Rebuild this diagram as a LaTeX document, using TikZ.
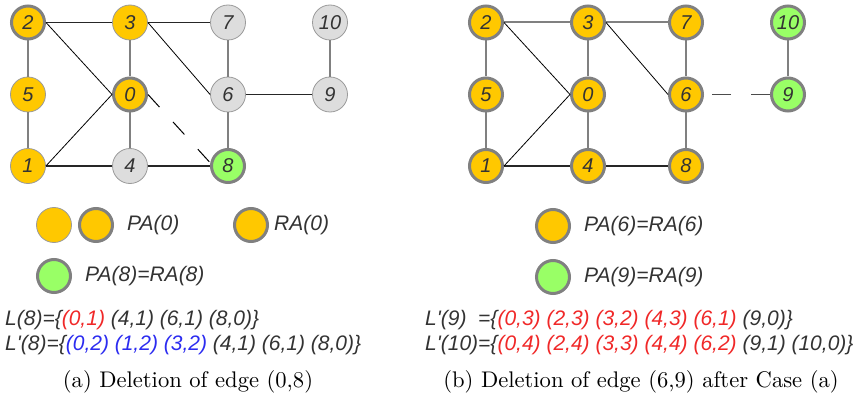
\documentclass[tikz,border=0pt]{standalone}
\usepackage{fontspec}
\usepackage{calc}
\newfontfamily\lsans{Liberation Sans}
\definecolor{yel}{HTML}{FFC800}
\definecolor{grn}{HTML}{99FF66}
\definecolor{lgr}{HTML}{DDDDDD}
\definecolor{bord}{HTML}{808080}
\definecolor{tbord}{HTML}{9A9A9A}
\definecolor{txt}{HTML}{333333}
\definecolor{rd}{HTML}{F02828}
\definecolor{bl}{HTML}{2C2CF0}
\tikzset{
  vtx/.style={circle, minimum size=35pt, inner sep=0pt, font=\lsans\itshape\fontsize{20}{20}\selectfont, text=txt},
  thinv/.style={vtx, draw=tbord, line width=0.8pt},
  thickv/.style={vtx, draw=bord, line width=3pt, minimum size=33pt},
  ygt/.style={thinv, fill=yel},
  gyt/.style={thinv, fill=lgr},
  ykt/.style={thickv, fill=yel},
  gkt/.style={thickv, fill=grn},
  ethin/.style={line width=0.8pt, draw=black},
  eblk/.style={line width=1.2pt, draw=black!85},
  egry/.style={line width=2pt, draw=bord},
  edash/.style={line width=1pt, draw=black, dash pattern=on 17pt off 20pt},
  edash2/.style={line width=1.6pt, draw=black!70, dash pattern=on 19pt off 20pt},
  lab/.style={anchor=west, inner sep=0pt, font=\lsans\itshape\fontsize{21}{21}\selectfont, text=txt},
  capt/.style={inner sep=0pt, text=black}
}
\newcommand{\aps}{\char"0027}
\begin{document}
\begin{tikzpicture}[x=1pt,y=-1pt]
\useasboundingbox (0,0) rectangle (857,401);
% ---------- left graph
\node[ykt] (a2) at (28,22.5) {2};
\node[ygt] (a3) at (130,22.5) {3};
\node[gyt] (a7) at (228,22.5) {7};
\node[gyt] (a10) at (330,22.5) {10};
\node[ygt] (a5) at (28,94.5) {5};
\node[ykt] (a0) at (130,94.5) {0};
\node[gyt] (a6) at (228,94.5) {6};
\node[gyt] (a9) at (330,94.5) {9};
\node[ygt] (a1) at (28,166) {1};
\node[gyt] (a4) at (130,166) {4};
\node[gkt] (a8) at (228,166) {8};
\draw[eblk] (a2) -- (a3);
\draw[eblk] (a3) -- (a7);
\draw[eblk] (a6) -- (a9);
\draw[eblk] (a1) -- (a4);
\draw[eblk] (a4) -- (a8);
\draw[egry] (a2) -- (a5);
\draw[egry] (a5) -- (a1);
\draw[egry] (a3) -- (a0);
\draw[egry] (a0) -- (a4);
\draw[egry] (a7) -- (a6);
\draw[egry] (a6) -- (a8);
\draw[egry] (a10) -- (a9);
\draw[ethin] (a2.east) -- (a0.west);
\draw[ethin] (a1.east) -- (a0.west);
\draw[ethin] (a3.east) -- (a6.west);
\draw[edash] (a0.east) -- (a8.170);
% ---------- right graph
\node[ykt] (b2) at (486,22.5) {2};
\node[ykt] (b3) at (588,22.5) {3};
\node[ykt] (b7) at (686,22.5) {7};
\node[gkt] (b10) at (788,22.5) {10};
\node[ykt] (b5) at (486,94.5) {5};
\node[ykt] (b0) at (588,94.5) {0};
\node[ykt] (b6) at (686,94.5) {6};
\node[gkt] (b9) at (788,94.5) {9};
\node[ykt] (b1) at (486,166) {1};
\node[ykt] (b4) at (588,166) {4};
\node[ykt] (b8) at (686,166) {8};
\draw[egry] (b2) -- (b3);
\draw[egry] (b3) -- (b7);
\draw[eblk] (b1) -- (b4);
\draw[eblk] (b4) -- (b8);
\draw[egry] (b2) -- (b5);
\draw[egry] (b5) -- (b1);
\draw[egry] (b3) -- (b0);
\draw[egry] (b0) -- (b4);
\draw[egry] (b7) -- (b6);
\draw[egry] (b6) -- (b8);
\draw[egry] (b10) -- (b9);
\draw[ethin] (b2.east) -- (b0.west);
\draw[ethin] (b1.east) -- (b0.west);
\draw[ethin] (b3.east) -- (b6.west);
\draw[edash2] (b9.west) -- (b6.east);
% ---------- left legend
\node[ygt, minimum size=35pt] (la) at (54,225) {};
\node[ykt] (lb) at (96,225) {};
\node[lab] (lpa) at (127,225) {PA(0)};
\node[ykt] (lc) at (251,225) {};
\node[lab] (lra) at (274,225) {RA(0)};
\node[gkt] (ld) at (54,276) {};
\node[lab] (lpr) at (85,276) {PA(8)=RA(8)};
\node[lab, anchor=base west] (l8) at (5,325) {L(8)=\{\textcolor{rd}{(0,1)} (4,1) (6,1) (8,0)\}};
\node[lab, anchor=base west] (l8p) at (5,350) {L\aps(8)=\{\textcolor{bl}{(0,2) (1,2) (3,2)} (4,1) (6,1) (8,0)\}};
\node[capt, anchor=base] (ca) at (188,387) {\scalebox{2.26}{\normalsize (a) Deletion of edge (0,8)}};
% ---------- right legend
\node[ykt] (ra) at (553,226) {};
\node[lab] (rpa) at (584,226) {PA(6)=RA(6)};
\node[gkt] (rb) at (553,277) {};
\node[lab] (rpb) at (584,277) {PA(9)=RA(9)};
\node[lab, anchor=base west] (r9) at (425,325) {\makebox[\widthof{L\aps(10)}][l]{L\aps(9)}=\{\textcolor{rd}{(0,3) (2,3) (3,2) (4,3) (6,1)} (9,0)\}};
\node[lab, anchor=base west] (r10) at (425,350) {L\aps(10)=\{\textcolor{rd}{(0,4) (2,4) (3,3) (4,4) (6,2)} (9,1) (10,0)\}};
\node[capt, anchor=base] (cb) at (641,387) {\scalebox{2.26}{\normalsize (b) Deletion of edge (6,9) after Case (a)}};
\end{tikzpicture}
\end{document}
